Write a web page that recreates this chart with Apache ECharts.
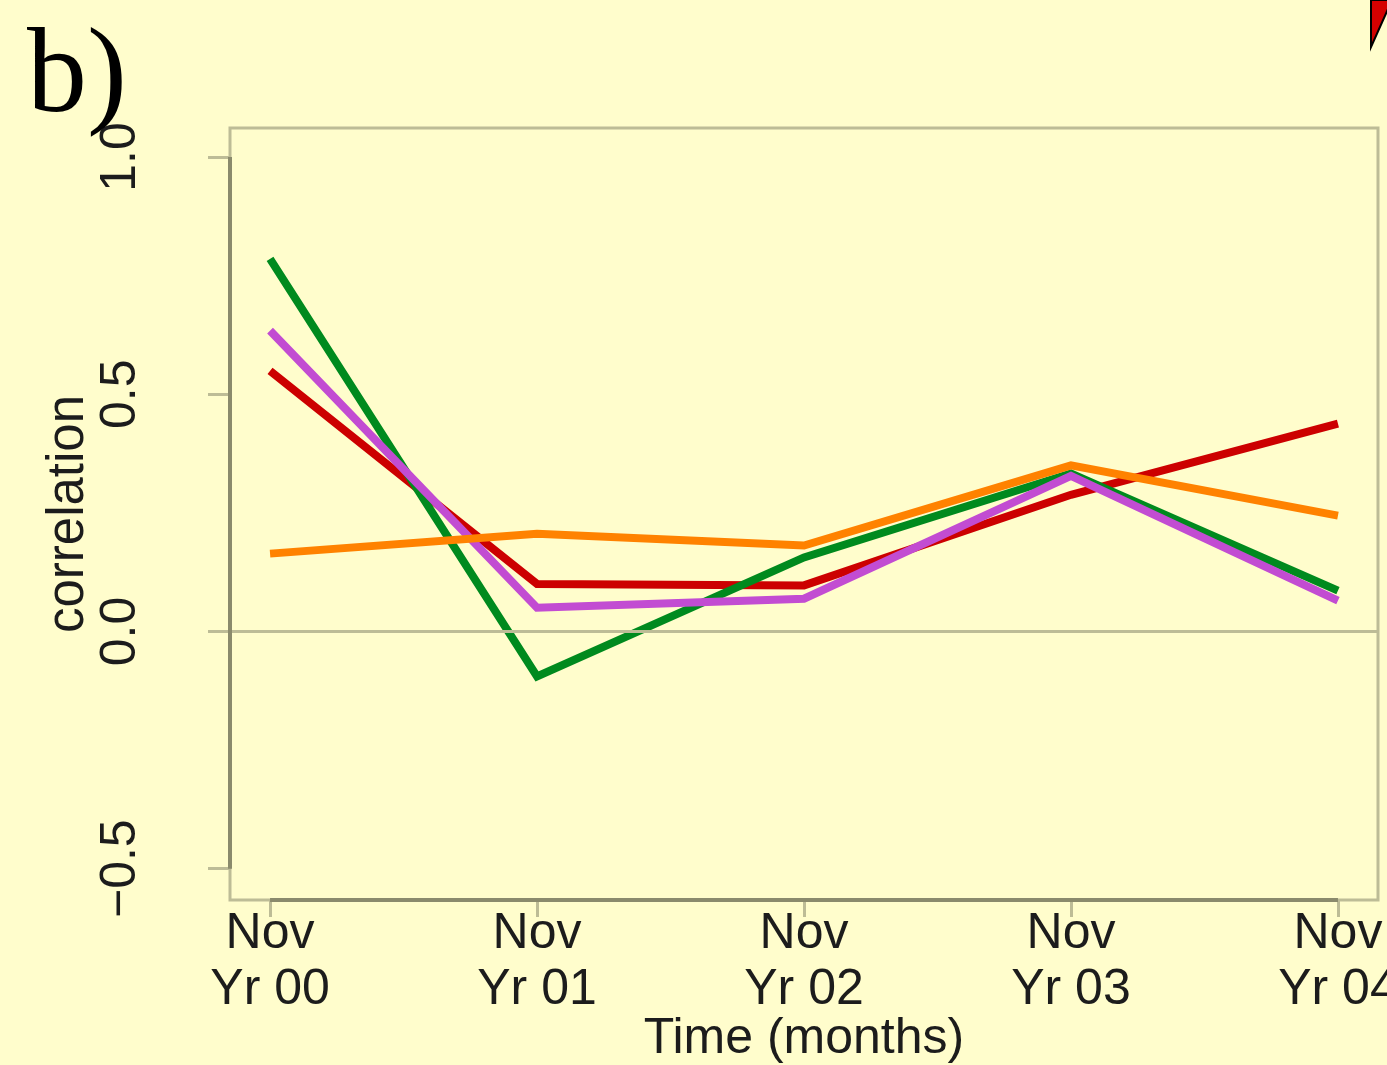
<!DOCTYPE html>
<html>
<head>
<meta charset="utf-8">
<script src="https://cdn.jsdelivr.net/npm/echarts@6/dist/echarts.min.js"></script>
<style>
  html, body { margin: 0; padding: 0; background: #FFFDCC; }
  #chart { width: 1387px; height: 1065px; }
</style>
</head>
<body>
<div id="chart"></div>
<script>
// Time points (November of each year) and their two-line labels
const timePoints = [0, 1, 2, 3, 4];
const timeLabels = ['Nov\nYr 00', 'Nov\nYr 01', 'Nov\nYr 02', 'Nov\nYr 03', 'Nov\nYr 04'];
const yTicks = [-0.5, 0.0, 0.5, 1.0];

// Correlation series, one value per November
const redValues    = [0.549, 0.100, 0.097, 0.288, 0.438];
const greenValues  = [0.785, -0.095, 0.156, 0.333, 0.086];
const purpleValues = [0.634, 0.050, 0.069, 0.328, 0.065];
const orangeValues = [0.164, 0.206, 0.181, 0.350, 0.244];

const BG = '#FFFDCC';
const BOX = '#BDBC96';
const AXIS = '#8A8A6C';
const TEXT = '#1c1c1c';
const SANS = '"Liberation Sans", Arial, sans-serif';

const pair = vals => vals.map((v, i) => [timePoints[i], v]);

function lineSeries(name, color, vals, z) {
  return {
    name, type: 'line', data: pair(vals), z,
    symbol: 'none', smooth: false,
    lineStyle: { color, width: 8, cap: 'butt', join: 'miter' },
    emphasis: { disabled: true }, silent: true, animation: false
  };
}

// tick labels use a true minus sign
const fmtTick = v => (v < 0 ? '\u2212' : '') + Math.abs(v).toFixed(1);

const chart = echarts.init(document.getElementById('chart'), null, { renderer: 'canvas' });

chart.setOption({
  backgroundColor: BG,
  animation: false,
  title: {
    text: 'b)', left: 22, top: 14,
    textStyle: { fontFamily: '"Liberation Serif", "Times New Roman", serif', fontSize: 120, fontWeight: 'normal', color: '#000' }
  },
  grid: {
    left: 230, right: 9, top: 128, bottom: 165,
    outerBoundsMode: 'none', containLabel: false,
    show: true, borderColor: BOX, borderWidth: 3, backgroundColor: 'transparent'
  },
  xAxis: {
    type: 'value', min: -0.15, max: 4.15,
    name: 'Time (months)', nameLocation: 'middle', nameGap: 114, nameMoveOverlap: false,
    nameTextStyle: { fontFamily: SANS, fontSize: 50, color: TEXT },
    axisLine: { show: false, onZero: false },
    splitLine: { show: false },
    axisTick: { show: true, length: 17, customValues: timePoints, lineStyle: { color: BOX, width: 3 } },
    axisLabel: {
      customValues: timePoints, margin: 6,
      formatter: v => timeLabels[Math.round(v)],
      fontFamily: SANS, fontSize: 50, lineHeight: 56, color: TEXT
    }
  },
  yAxis: {
    type: 'value', min: -0.566, max: 1.061,
    name: 'correlation', nameLocation: 'middle', nameRotate: 90, nameGap: 136, nameMoveOverlap: false,
    nameTextStyle: { fontFamily: SANS, fontSize: 51, color: TEXT },
    axisLine: { show: false, onZero: false },
    splitLine: { show: false },
    axisTick: { show: true, length: 22, customValues: yTicks, lineStyle: { color: BOX, width: 3 } },
    axisLabel: {
      customValues: yTicks, rotate: 90, margin: 84,
      formatter: fmtTick,
      fontFamily: SANS, fontSize: 50, color: TEXT
    }
  },
  graphic: [{
    type: 'polygon', z: 100,
    shape: { points: [[1371, 0], [1371, 47], [1392, 0]] },
    style: { fill: '#D40000', stroke: '#000', lineWidth: 2 }
  }],
  series: [
    {
      // frame: zero reference line plus the two axis segments spanning the tick range
      type: 'line', data: [], silent: true, z: 1,
      markLine: {
        symbol: 'none', silent: true, animation: false, label: { show: false },
        lineStyle: { type: 'solid' },
        data: [
          [{ coord: [-0.15, 0], lineStyle: { color: BOX, width: 3, type: 'solid' } }, { coord: [4.15, 0] }],
          [{ coord: [-0.15, -0.5], lineStyle: { color: AXIS, width: 4, type: 'solid' } }, { coord: [-0.15, 1.0] }],
          [{ coord: [0, -0.566], lineStyle: { color: AXIS, width: 4, type: 'solid' } }, { coord: [4, -0.566] }]
        ]
      }
    },
    lineSeries('red', '#CC0000', redValues, 2),
    lineSeries('green', '#008A1E', greenValues, 3),
    lineSeries('purple', '#C24CD2', purpleValues, 4),
    lineSeries('orange', '#FF8200', orangeValues, 5)
  ]
});
</script>
</body>
</html>
